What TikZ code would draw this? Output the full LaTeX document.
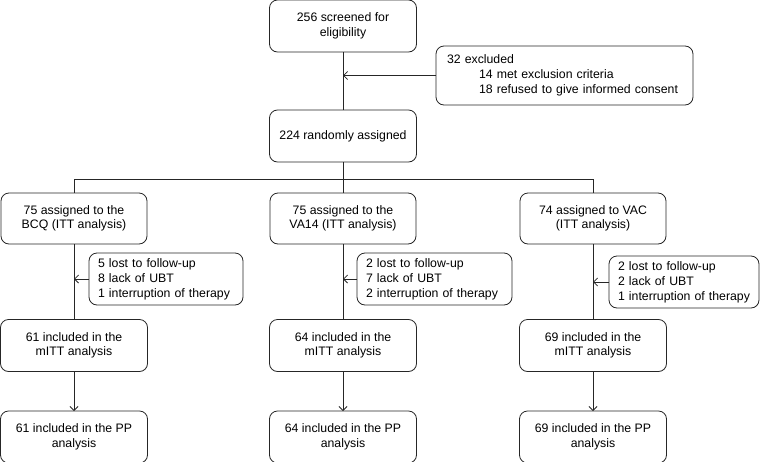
\documentclass[tikz,border=0pt]{standalone}
\usepackage{fontspec}
\setmainfont{Liberation Sans}
\usetikzlibrary{arrows.meta}
\begin{document}
\begin{tikzpicture}[x=1pt,y=-1pt,
  font=\fontsize{12.3}{14.5}\selectfont,
  every node/.style={inner sep=0pt, outer sep=0pt},
  mainbox/.style={draw=black!85, line width=0.8pt, rounded corners=8pt, align=center, minimum width=#1, minimum height=52pt},
  mainbox/.default=147pt,
  sidebox/.style={draw=black!85, line width=0.8pt, rounded corners=8pt, align=left, text width=#1, inner xsep=9pt, minimum height=52pt, font=\fontsize{12.3}{15}\selectfont},
  conn/.style={draw=black!85, line width=0.8pt},
  arr/.style={conn, -{Straight Barb[length=4pt,width=8pt,line width=0.8pt]}}
]
\useasboundingbox (0,0) rectangle (761,461);
\clip (0,0) rectangle (761,461);

\node[mainbox] (screen) at (343,26) {256 screened for\\eligibility};
\node[sidebox=235pt, inner xsep=11pt, minimum height=59pt, font=\fontsize{12.3}{15}\selectfont] (excl) at (564.5,75.5)
  {32 excluded\\\hspace*{32pt}14 met exclusion criteria\\\hspace*{32pt}18 refused to give informed consent};
\node[mainbox] (rand) at (343,136) {224 randomly assigned};

\coordinate (excljoin) at (343,75.5);
\coordinate (split) at (343,179);
\coordinate (splitL) at (74,179);
\coordinate (splitR) at (593,179);

\node[mainbox=146pt, minimum height=51pt] (bcq) at (74,218.5) {75 assigned to the\\BCQ (ITT analysis)};
\node[mainbox=146pt, minimum height=51pt] (va) at (343,218.5) {75 assigned to the\\VA14 (ITT analysis)};
\node[mainbox=146pt, minimum height=51pt] (vac) at (593,218.5) {74 assigned to VAC\\(ITT analysis)};

\node[sidebox=136pt] (lossA) at (166,279) {5 lost to follow-up\\8 lack of UBT\\1 interruption of therapy};
\node[sidebox=137pt] (lossB) at (434.5,279) {2 lost to follow-up\\7 lack of UBT\\2 interruption of therapy};
\node[sidebox=132pt] (lossC) at (684,282) {2 lost to follow-up\\2 lack of UBT\\1 interruption of therapy};

\node[mainbox] (mA) at (74,345.5) {61 included in the\\mITT analysis};
\node[mainbox] (mB) at (343,345.5) {64 included in the\\mITT analysis};
\node[mainbox] (mC) at (593,345.5) {69 included in the\\mITT analysis};

\node[mainbox] (pA) at (74,437) {61 included in the PP\\analysis};
\node[mainbox] (pB) at (343,437) {64 included in the PP\\analysis};
\node[mainbox] (pC) at (593,437) {69 included in the PP\\analysis};

% trunk
\draw[conn] (screen.south) -- (rand.north);
\draw[arr] (excl.west) -- (excljoin);
\draw[conn] (rand.south) -- (split);
\draw[conn] (splitL) -- (splitR);
\draw[conn] (splitL) -- (bcq.north);
\draw[conn] (split) -- (va.north);
\draw[conn] (splitR) -- (vac.north);

% branches
\draw[conn] (bcq.south) -- (mA.north);
\draw[conn] (va.south) -- (mB.north);
\draw[conn] (vac.south) -- (mC.north);
\draw[arr] (lossA.west) -- (lossA.west -| bcq.south);
\draw[arr] (lossB.west) -- (lossB.west -| va.south);
\draw[arr] (lossC.west) -- (lossC.west -| vac.south);

\draw[arr] (mA.south) -- (pA.north);
\draw[arr] (mB.south) -- (pB.north);
\draw[arr] (mC.south) -- (pC.north);
\end{tikzpicture}
\end{document}
